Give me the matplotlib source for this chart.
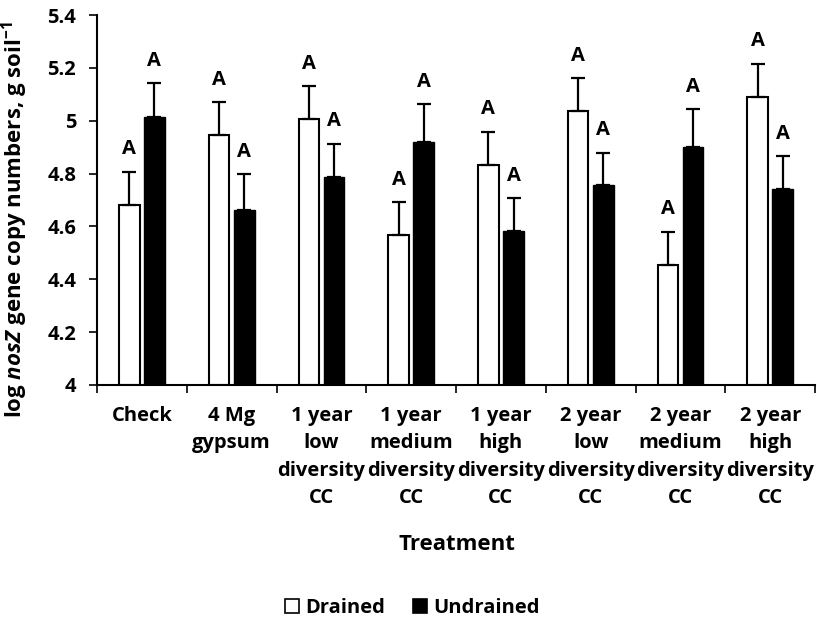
import matplotlib
matplotlib.use("Agg")
import matplotlib.pyplot as plt
from matplotlib.patches import Patch
import numpy as np

FONT = 'Open Sans'
plt.rcParams['font.family'] = [FONT, 'DejaVu Sans']
plt.rcParams['mathtext.fontset'] = 'custom'
plt.rcParams['mathtext.rm'] = FONT
plt.rcParams['mathtext.bf'] = FONT + ':bold'
plt.rcParams['mathtext.it'] = FONT + ':italic'
plt.rcParams['mathtext.bfit'] = FONT + ':bold:italic'

categories = ["Check", "4 Mg\ngypsum", "1 year\nlow\ndiversity\nCC",
              "1 year\nmedium\ndiversity\nCC", "1 year\nhigh\ndiversity\nCC",
              "2 year\nlow\ndiversity\nCC", "2 year\nmedium\ndiversity\nCC",
              "2 year\nhigh\ndiversity\nCC"]
drained = [4.682, 4.945, 5.006, 4.566, 4.834, 5.036, 4.454, 5.090]
drained_err = [0.125, 0.125, 0.124, 0.126, 0.124, 0.124, 0.126, 0.126]
undrained = [5.015, 4.661, 4.788, 4.919, 4.584, 4.756, 4.900, 4.740]
undrained_err = [0.127, 0.136, 0.125, 0.144, 0.124, 0.123, 0.144, 0.125]
drained_letters = ["A"] * 8
undrained_letters = ["A"] * 8
yticks = [4, 4.2, 4.4, 4.6, 4.8, 5, 5.2, 5.4]
ytick_labels = ["4", "4.2", "4.4", "4.6", "4.8", "5", "5.2", "5.4"]

FS = 14.5
fig = plt.figure(figsize=(8.17, 6.26), dpi=100)
ax = fig.add_axes([0.1187, 0.385, 0.879, 0.591])

x = np.arange(len(categories))
w = 0.23
off = 0.14
base = 4.0

ax.bar(x - off, np.array(drained) - base, w, bottom=base, color='white',
       edgecolor='black', linewidth=1.5, zorder=2)
ax.bar(x + off, np.array(undrained) - base, w, bottom=base, color='black',
       edgecolor='black', linewidth=1.0, zorder=2)

ax.errorbar(x - off, drained, yerr=[np.zeros(8), drained_err], fmt='none',
            ecolor='black', elinewidth=1.6, capsize=5, capthick=1.6, zorder=3)
ax.errorbar(x + off, undrained, yerr=[np.zeros(8), undrained_err], fmt='none',
            ecolor='black', elinewidth=1.6, capsize=5, capthick=1.6, zorder=3)

for xi, v, e, t in zip(x - off, drained, drained_err, drained_letters):
    ax.annotate(t, (xi, v + e), xytext=(0, 12.5), textcoords='offset points',
                ha='center', va='baseline', fontsize=FS, fontweight='bold')
for xi, v, e, t in zip(x + off, undrained, undrained_err, undrained_letters):
    ax.annotate(t, (xi, v + e), xytext=(0, 12.5), textcoords='offset points',
                ha='center', va='baseline', fontsize=FS, fontweight='bold')

ax.set_xlim(-0.5, 7.5)
ax.set_ylim(4, 5.4)
ax.set_yticks(yticks)
ax.set_yticklabels(ytick_labels, fontsize=FS, fontweight='bold')
ax.tick_params(axis='y', direction='out', length=6, width=1.2, pad=9)

ax.set_xticks(np.arange(-0.5, 8, 1))
ax.set_xticklabels([])
ax.tick_params(axis='x', which='major', direction='out', length=6, width=1.2)
ax.set_xticks(x, minor=True)
ax.set_xticklabels(categories, minor=True, fontsize=FS, fontweight='bold',
                   linespacing=1.5, va='top')
ax.tick_params(axis='x', which='minor', length=0, pad=15)

for s in ['top', 'right']:
    ax.spines[s].set_visible(False)
for s in ['left', 'bottom']:
    ax.spines[s].set_linewidth(1.5)

ax.set_ylabel(r'log $\mathbfit{nosZ}$ gene copy numbers, g soil$^{\mathbf{-1}}$',
              fontsize=16, fontweight='bold')
ax.yaxis.set_label_coords(-0.093, 0.446)

fig.text(0.5594, 1 - 545 / 626, "Treatment", ha='center', va='center',
         fontsize=16, fontweight='bold')

handles = [Patch(facecolor='white', edgecolor='black', linewidth=1.2, label='Drained'),
           Patch(facecolor='black', edgecolor='black', linewidth=1.2, label='Undrained')]
fig.legend(handles=handles, loc='center', bbox_to_anchor=(0.505, 1 - 608 / 626),
           ncol=2, frameon=False, prop={'size': FS, 'weight': 'bold'},
           handlelength=0.7, handleheight=0.7, handletextpad=0.3,
           columnspacing=1.4)

fig.savefig("out.png", dpi=100)
